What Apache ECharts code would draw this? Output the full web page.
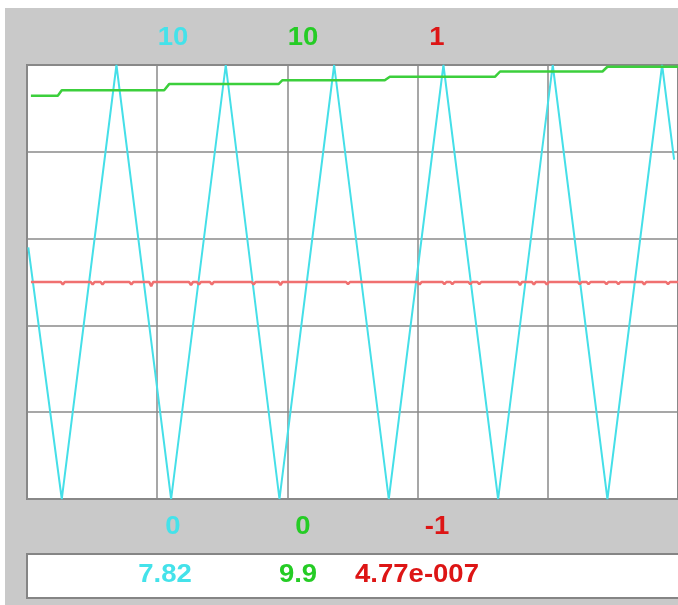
<!DOCTYPE html>
<html>
<head>
<meta charset="utf-8">
<script src="https://cdn.jsdelivr.net/npm/echarts@6/dist/echarts.min.js"></script>
<style>
  html, body { margin: 0; padding: 0; background: #fff; }
  #chart { width: 678px; height: 605px; }
</style>
</head>
<body>
<div id="chart"></div>
<script>
// x is in screen divisions: 0..100, one grid column = 20
var cyanX = [0.2, 5.34, 13.74, 22.14, 30.53, 38.78, 47.18, 55.57, 63.97, 72.37, 80.76, 89.16, 97.56, 99.4];
var cyanY = [5.8, 0, 10, 0, 10, 0, 10, 0, 10, 0, 10, 0, 10, 7.82];

// green steps up at each cyan trough
var greenX = [0.6, 4.73, 5.34, 21.07, 21.83, 38.63, 39.24, 54.96, 55.73, 71.91, 72.67, 88.4, 89.16, 100];
var greenY = [9.29, 9.29, 9.42, 9.42, 9.56, 9.56, 9.65, 9.65, 9.73, 9.73, 9.85, 9.85, 9.96, 9.96];

// red is flat near 0 with small glitches
var redDips = [5.5, 10.08, 11.6, 16.03, 19.08, 25.19, 26.41, 28.4, 34.81, 38.93, 49.31, 60.31, 64.12,
  65.34, 68.09, 69.47, 75.73, 77.86, 79.85, 84.89, 86.26, 89.01, 90.84, 94.81, 98.47];
var redDipDepth = [-0.012, -0.012, -0.012, -0.012, -0.02, -0.014, -0.012, -0.012, -0.012, -0.014, -0.01, -0.012, -0.01,
  -0.01, -0.01, -0.01, -0.014, -0.012, -0.012, -0.01, -0.01, -0.01, -0.01, -0.012, -0.01];
var redStart = 0.6, redEnd = 100, redBase = 0;

var seriesColors = ['#45dfe8', '#3ccf3c', '#f07070'];
var textColors = ['#44e2ea', '#25cc25', '#dd1515'];
var maxLabels = ['10', '10', '1'];
var minLabels = ['0', '0', '-1'];
var currentValues = ['7.82', '9.9', '4.77e-007'];

function pairs(xs, ys) {
  return xs.map(function (x, i) { return [x, ys[i]]; });
}

var redData = [[redStart, redBase]];
redDips.forEach(function (x, i) {
  redData.push([x - 0.3, redBase], [x, redDipDepth[i]], [x + 0.3, redBase]);
});
redData.push([redEnd, redBase]);

var chart = echarts.init(document.getElementById('chart'));

var labelX = [173, 303, 437];
var valueX = [165, 298, 417];
var font = 'bold 25px "Liberation Sans", Arial, sans-serif';

var graphics = [
  { type: 'rect', z: -10, shape: { x: 5, y: 8, width: 680, height: 600 }, style: { fill: '#c9c9c9' } },
  { type: 'rect', z: -5, shape: { x: 27, y: 554, width: 660, height: 44 },
    style: { fill: '#fff', stroke: '#858585', lineWidth: 2 } }
];
for (var i = 0; i < 3; i++) {
  graphics.push({ type: 'text', x: labelX[i], y: 38, scaleX: 1.1,
    style: { text: maxLabels[i], fill: textColors[i], font: font, align: 'center', verticalAlign: 'middle' } });
  graphics.push({ type: 'text', x: labelX[i], y: 527, scaleX: 1.1,
    style: { text: minLabels[i], fill: textColors[i], font: font, align: 'center', verticalAlign: 'middle' } });
  graphics.push({ type: 'text', x: valueX[i], y: 575, scaleX: 1.1,
    style: { text: currentValues[i], fill: textColors[i], font: font, align: 'center', verticalAlign: 'middle' } });
}

var hiddenY = {
  type: 'value', show: false,
  axisLine: { show: false }, axisTick: { show: false }, axisLabel: { show: false }, splitLine: { show: false }
};

chart.setOption({
  animation: false,
  backgroundColor: '#fff',
  graphic: graphics,
  grid: {
    show: true, left: 27, top: 65, width: 655, height: 434,
    backgroundColor: '#fff', borderColor: '#858585', borderWidth: 2
  },
  xAxis: {
    type: 'value', min: 0, max: 100, interval: 20,
    axisLine: { show: false }, axisTick: { show: false }, axisLabel: { show: false },
    splitLine: { show: true, lineStyle: { color: '#8a8a8a', width: 1.5 } }
  },
  yAxis: [
    {
      type: 'value', min: 0, max: 10, interval: 2,
      axisLine: { show: false }, axisTick: { show: false }, axisLabel: { show: false },
      splitLine: { show: true, lineStyle: { color: '#8a8a8a', width: 1.5 } }
    },
    Object.assign({ min: 0, max: 10 }, hiddenY),
    Object.assign({ min: -1, max: 1 }, hiddenY)
  ],
  series: [
    {
      type: 'line', yAxisIndex: 0, data: pairs(cyanX, cyanY), showSymbol: false,
      lineStyle: { color: seriesColors[0], width: 2 }
    },
    {
      type: 'line', yAxisIndex: 1, data: pairs(greenX, greenY), showSymbol: false,
      lineStyle: { color: seriesColors[1], width: 2.5 }
    },
    {
      type: 'line', yAxisIndex: 2, data: redData, showSymbol: false,
      lineStyle: { color: seriesColors[2], width: 2.5 }
    }
  ]
});
</script>
</body>
</html>
